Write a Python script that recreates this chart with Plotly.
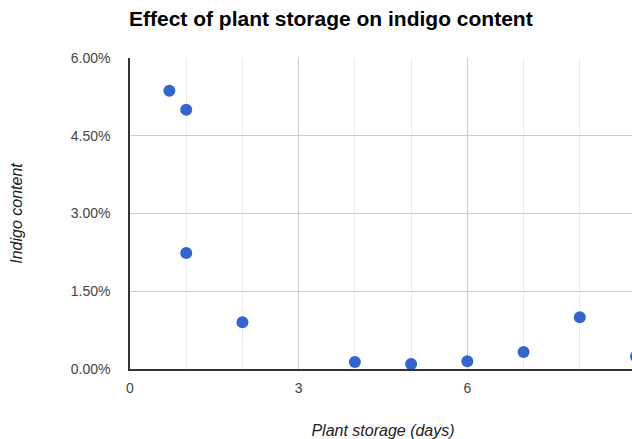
import plotly.graph_objects as go

# Data
storage_days = [0.7, 1, 1, 2, 4, 5, 6, 7, 8, 9]
indigo_content = [0.0537, 0.0500, 0.0224, 0.0090, 0.00135, 0.00096, 0.00148, 0.0033, 0.0100, 0.0024]
y_ticks = [0, 0.015, 0.03, 0.045, 0.06]
x_ticks = [0, 3, 6]

FONT = "Liberation Sans, Arial, sans-serif"
FIG_W = 636  # plot runs slightly past the right edge of the 632px window, as in the reference

fig = go.Figure(
    go.Scatter(
        x=storage_days,
        y=indigo_content,
        mode="markers",
        marker=dict(color="#3366cc", size=12, line=dict(width=0)),
        cliponaxis=False,
        showlegend=False,
    )
)

fig.update_layout(
    width=FIG_W,
    height=439,
    margin=dict(l=130, r=0, t=58, b=70),
    paper_bgcolor="white",
    plot_bgcolor="white",
    title=dict(
        text="<b>Effect of plant storage on indigo content</b>",
        x=129 / FIG_W,
        xanchor="left",
        y=1 - 19 / 439,
        yanchor="middle",
        font=dict(family=FONT, size=21, color="#000000"),
    ),
    font=dict(family=FONT),
)

fig.update_xaxes(
    range=[0, 9],
    tickvals=x_ticks,
    ticktext=[str(v) for v in x_ticks],
    showgrid=True,
    gridcolor="#cccccc",
    gridwidth=1,
    minor=dict(dtick=1, tick0=0, showgrid=True, gridcolor="#ebebeb", gridwidth=1),
    showline=True,
    linecolor="#333333",
    linewidth=1.5,
    ticks="outside",
    ticklen=5,
    tickcolor="rgba(0,0,0,0)",
    tickfont=dict(family=FONT, size=14, color="#444444"),
    zeroline=False,
    title=dict(
        text="Plant storage (days)",
        font=dict(family=FONT, size=16, color="#222222", style="italic"),
        standoff=33,
    ),
)

fig.update_yaxes(
    range=[0, 0.06],
    tickvals=y_ticks,
    tickformat=".2%",
    showgrid=True,
    gridcolor="#cccccc",
    gridwidth=1,
    showline=True,
    linecolor="#333333",
    linewidth=1.5,
    ticks="outside",
    ticklen=15,
    tickcolor="rgba(0,0,0,0)",
    tickfont=dict(family=FONT, size=14, color="#444444"),
    zeroline=False,
    title=dict(
        text="Indigo content",
        font=dict(family=FONT, size=16, color="#222222", style="italic"),
        standoff=44,
    ),
)

fig.write_html(
    "out.html",
    config={"displayModeBar": False},
    post_script="document.body.style.margin='0';document.body.style.overflow='hidden';",
)
